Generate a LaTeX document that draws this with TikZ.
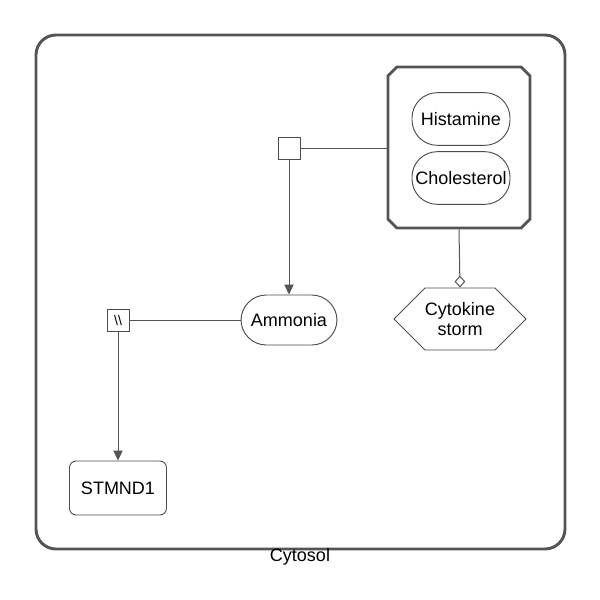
\documentclass[tikz,border=0pt]{standalone}
\usepackage{fontspec}
\setmainfont{Liberation Sans}
\usetikzlibrary{arrows.meta,positioning,shapes.misc,shapes.symbols}

\begin{document}
\begin{tikzpicture}[
  x=0.75pt,y=-0.75pt,
  every node/.style={font=\fontsize{13.5}{15}\selectfont},
  compart/.style={rectangle,rounded corners=15pt,draw=black!67,line width=2.2pt,
              minimum width=396.75pt,minimum height=385.5pt},
  cplx/.style={chamfered rectangle,chamfered rectangle xsep=6pt,draw=black!67,
              line width=2.2pt,fill=white,minimum width=106.5pt,minimum height=120.75pt},
  simple/.style={rectangle,rounded corners=19pt,draw=black!70,line width=0.7pt,fill=white,
              minimum width=73.5pt,minimum height=39.5pt,inner sep=1pt},
  macro/.style={rectangle,rounded corners=5pt,draw=black!70,line width=0.7pt,fill=white,
              minimum width=72.75pt,minimum height=40.5pt},
  pheno/.style={signal,signal to=east and west,signal pointer angle=90,draw=black!70,
              line width=0.7pt,fill=white,minimum width=96pt,minimum height=46.5pt,
              inner xsep=0pt,align=center,font=\fontsize{13.5}{15}\selectfont},
  procbox/.style={rectangle,draw=black!70,line width=0.7pt,fill=white,minimum size=16.5pt,
              inner sep=0pt},
  link/.style={draw=black!67,line width=0.75pt},
  conv/.style={link,-{Triangle[length=7.5pt,width=7pt]}},
  modul/.style={link,-{Diamond[open,length=9pt,width=8pt]}}
]
  \useasboundingbox (0,0) rectangle (600,600);
  \node[compart] (cytosol) at (300.5,292) {};
  \node (cytolabel) at (300,557) {Cytosol};

  \node[cplx] (complex) at (459,147.5) {};
  \node[simple] (histamine) at (461,119) {Histamine};
  \node[simple] (cholesterol) at (461,178) {Cholesterol};

  \node[procbox] (proc) at (289,148) {};
  \node[simple,minimum width=72pt,minimum height=37.5pt] (ammonia) at (289,320) {Ammonia};
  \node[pheno] (storm) at (460,319) {Cytokine\\storm};
  \node[procbox,font=\fontsize{10.5}{11}\selectfont] (uproc) at (118,320) {\textbackslash\textbackslash};
  \node[macro] (stmnd) at (118,488) {STMND1};

  \draw[link] (proc.east) -- (proc.east -| complex.west);
  \draw[conv] (proc.south) -- (ammonia.north);
  \draw[modul] (complex.south) -- (storm.north);
  \draw[link] (ammonia.west) -- (uproc.east);
  \draw[conv] (uproc.south) -- (stmnd.north);
\end{tikzpicture}
\end{document}
